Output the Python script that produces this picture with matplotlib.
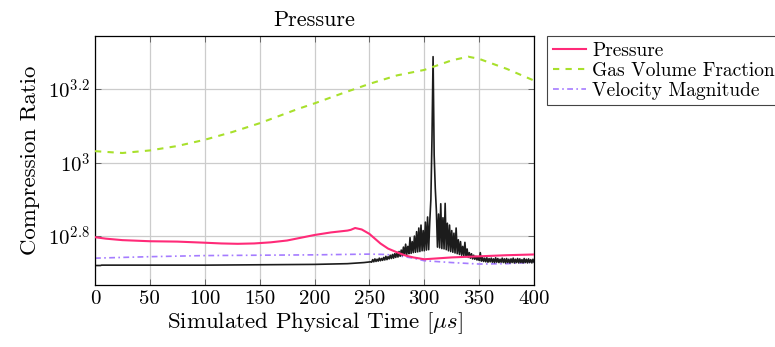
import numpy as np
import matplotlib
matplotlib.use("Agg")
import matplotlib.pyplot as plt
from matplotlib.ticker import FixedLocator, FixedFormatter, NullLocator

plt.rcParams['font.family'] = 'serif'
plt.rcParams['font.serif'] = ['cmr10', 'DejaVu Serif']
plt.rcParams['mathtext.fontset'] = 'cm'
plt.rcParams['axes.unicode_minus'] = False

# values are log10 of the compression ratio
t_press = [0, 10, 25, 50, 75, 100, 115, 130, 145, 160, 175, 190, 200, 215, 230, 233, 237, 243, 250,
           255, 260, 267, 275, 283, 290, 300, 310, 325, 350, 375, 400]
pressure_log = [2.797, 2.793, 2.789, 2.786, 2.785, 2.782, 2.780, 2.779, 2.780, 2.783, 2.788, 2.797, 2.803,
                2.810, 2.815, 2.817, 2.822, 2.818, 2.806, 2.793, 2.780, 2.766, 2.756, 2.747, 2.742,
                2.737, 2.739, 2.742, 2.745, 2.748, 2.750]

t_gas = [0, 25, 50, 75, 100, 125, 150, 185, 200, 225, 250, 275, 300, 325, 340, 350, 375, 400]
gas_log = [3.031, 3.026, 3.033, 3.045, 3.062, 3.083, 3.107, 3.146, 3.161, 3.188, 3.214, 3.237, 3.252,
           3.278, 3.288, 3.282, 3.255, 3.223]

t_vel = [0, 50, 100, 150, 200, 250, 265, 275, 290, 300, 325, 350, 375, 400]
velocity_log = [2.740, 2.744, 2.747, 2.748, 2.749, 2.751, 2.750, 2.747, 2.740, 2.733, 2.728, 2.724, 2.725, 2.729]

# black trace: quiet start, then noisy part sampled every 1 us from 252 to 400
t_quiet = [0, 5, 6, 50, 100, 150, 200, 230, 245, 251]
quiet_log = [2.720, 2.720, 2.721, 2.721, 2.721, 2.722, 2.723, 2.725, 2.728, 2.730]
t_noisy = np.arange(252, 401)
noisy_log = [2.729, 2.736, 2.730, 2.738, 2.731, 2.737, 2.732, 2.740, 2.733, 2.739,
             2.734, 2.742, 2.735, 2.745, 2.736, 2.744, 2.738, 2.748, 2.739, 2.750,
             2.740, 2.752, 2.742, 2.756, 2.743, 2.758, 2.745, 2.762, 2.747, 2.770,
             2.748, 2.778, 2.750, 2.772, 2.752, 2.796, 2.753, 2.785, 2.755, 2.800,
             2.756, 2.812, 2.757, 2.822, 2.758, 2.830, 2.760, 2.815, 2.760, 2.838,
             2.762, 2.852, 2.763, 2.840, 2.900, 3.065, 3.288, 3.020, 2.930, 2.870,
             2.770, 2.860, 2.768, 2.888, 2.766, 2.850, 2.765, 2.889, 2.763, 2.835,
             2.760, 2.830, 2.758, 2.815, 2.756, 2.808, 2.754, 2.822, 2.752, 2.790,
             2.750, 2.785, 2.748, 2.772, 2.746, 2.783, 2.744, 2.765, 2.742, 2.755,
             2.740, 2.752, 2.738, 2.748, 2.737, 2.745, 2.735, 2.744, 2.734, 2.755,
             2.732, 2.742, 2.731, 2.740, 2.730, 2.741, 2.729, 2.739, 2.730, 2.740,
             2.729, 2.738, 2.728, 2.741, 2.729, 2.739, 2.728, 2.737, 2.729, 2.740,
             2.728, 2.738, 2.727, 2.739, 2.728, 2.737, 2.727, 2.738, 2.728, 2.740,
             2.727, 2.737, 2.728, 2.739, 2.727, 2.738, 2.728, 2.736, 2.727, 2.739,
             2.728, 2.737, 2.727, 2.738, 2.728, 2.736, 2.727, 2.737, 2.729]

x_ticks = [0, 50, 100, 150, 200, 250, 300, 350, 400]
y_tick_exps = [2.8, 3.0, 3.2]
y_tick_labels = [r'$10^{2.8}$', r'$10^{3}$', r'$10^{3.2}$']

fig = plt.figure(figsize=(7.75, 3.47), dpi=100)
ax = fig.add_axes([0.1226, 0.1787, 0.5665, 0.7173])

t_black = np.concatenate([t_quiet, t_noisy])
black_log = np.concatenate([quiet_log, noisy_log])
ax.plot(t_black, 10 ** black_log, color='#1c1c1c', lw=1.2, zorder=2)

ax.plot(t_press, 10 ** np.array(pressure_log), color='#ff2a78', lw=1.5, label='Pressure', zorder=3)
ax.plot(t_gas, 10 ** np.array(gas_log), color='#a8e02c', lw=1.5, dashes=(3, 3),
        label='Gas Volume Fraction', zorder=3)
ax.plot(t_vel, 10 ** np.array(velocity_log), color='#a57cff', lw=1.2, dashes=(3.5, 2, 1, 2),
        label='Velocity Magnitude', zorder=1)

ax.set_yscale('log')
ax.set_xlim(0, 400)
ax.set_ylim(10 ** 2.667, 10 ** 3.344)
ax.xaxis.set_major_locator(FixedLocator(x_ticks))
ax.yaxis.set_major_locator(FixedLocator([10 ** e for e in y_tick_exps]))
ax.yaxis.set_major_formatter(FixedFormatter(y_tick_labels))
ax.yaxis.set_minor_locator(NullLocator())
ax.tick_params(direction='in', top=True, right=True, length=4, width=0.6, labelsize=15, color='#555555')
ax.grid(True, color='#cccccc', lw=0.9)
ax.set_axisbelow(True)
for s in ax.spines.values():
    s.set_linewidth(0.9)

ax.set_xlabel(r'Simulated Physical Time [$\mu s$]', fontsize=16.5, labelpad=2)
ax.set_ylabel('Compression Ratio', fontsize=16.5, labelpad=6)
ax.set_title('Pressure', fontsize=16, pad=7)

leg = ax.legend(loc='upper left', bbox_to_anchor=(1.03, 1.0), fontsize=14, frameon=True, fancybox=False,
                edgecolor='#444444', framealpha=1, handlelength=1.7, handletextpad=0.3,
                borderpad=0.3, labelspacing=0.1, borderaxespad=0)
leg.get_frame().set_linewidth(0.8)

fig.savefig('out.png', dpi=100)
